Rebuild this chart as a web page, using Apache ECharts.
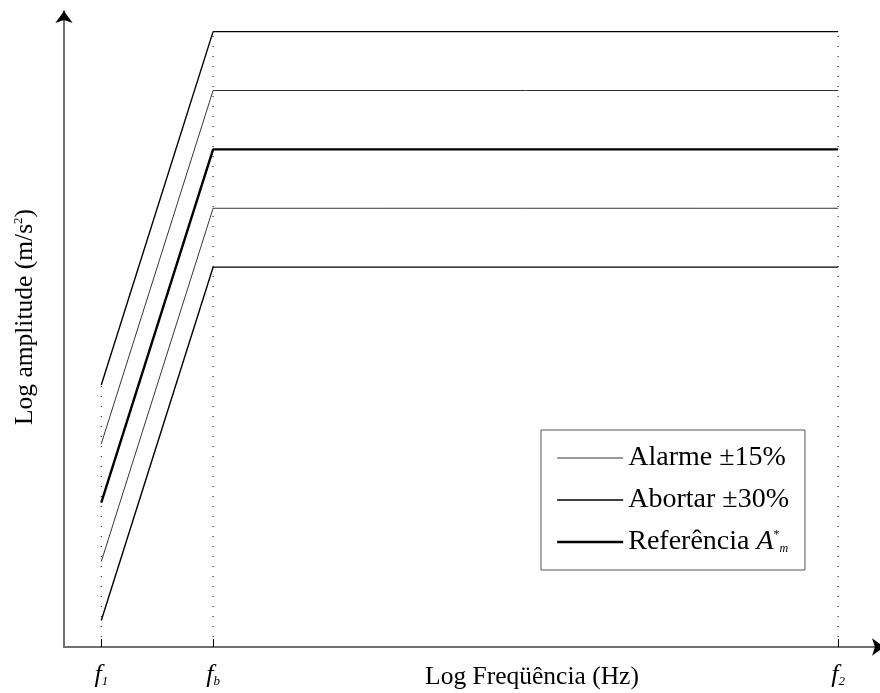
<!DOCTYPE html>
<html>
<head>
<meta charset="utf-8">
<script src="https://cdn.jsdelivr.net/npm/echarts@6/dist/echarts.min.js"></script>
<style>
  html, body { margin: 0; padding: 0; background: #fff; }
  #chart { width: 880px; height: 693px; }
</style>
</head>
<body>
<div id="chart"></div>
<script>
// Break points on the log-frequency axis: f1, fb, f2
const freqPoints = [1, 4, 20.77];
const freqTickLabels = ['{f|f}{s|1}', '{f|f}{s|b}', '{f|f}{s|2}'];

// Log amplitude of the reference spectrum and its tolerance bands
const reference   = [2.45, 8.45, 8.45];
const alarmUpper  = [3.45, 9.45, 9.45];
const alarmLower  = [1.45, 7.45, 7.45];
const abortUpper  = [4.45, 10.45, 10.45];
const abortLower  = [0.45, 6.45, 6.45];

const legendNames = ['Alarme ±15%', 'Abortar ±30%', 'Referência'];
const lineWidths  = { 'Alarme ±15%': 0.8, 'Abortar ±30%': 1.4, 'Referência': 2.4 };

const X_MAX = 22;
const Y_MAX = 10.8;

const serif = '"Liberation Serif", "DejaVu Serif", serif';

function pairs(ys) {
  return freqPoints.map((x, i) => [x, ys[i]]);
}

function bandSeries(name, ys) {
  return {
    name: name,
    type: 'line',
    data: pairs(ys),
    symbol: 'none',
    silent: true,
    lineStyle: { color: '#000', width: lineWidths[name] },
    itemStyle: { color: '#000' },
    z: 3
  };
}

// dotted guides rising from the axis to the upper abort limit
const guideSeries = freqPoints.map((x, i) => ({
  type: 'line',
  data: [[x, 0], [x, abortUpper[i]]],
  symbol: 'none',
  silent: true,
  lineStyle: { color: '#000', width: 1, type: [1, 9] },
  z: 1
}));

// an invisible twin axis that only carries the solid black arrow head
function arrowAxis(max) {
  return {
    type: 'value',
    min: 0,
    max: max,
    splitLine: { show: false },
    axisTick: { show: false },
    axisLabel: { show: false },
    axisLine: {
      show: true,
      onZero: false,
      symbol: ['none', 'arrow'],
      symbolSize: [13, 12],
      lineStyle: { color: '#000', width: 0 }
    },
    z: 5
  };
}

const chart = echarts.init(document.getElementById('chart'), null, { renderer: 'canvas' });

chart.setOption({
  animation: false,
  backgroundColor: '#fff',
  textStyle: { fontFamily: serif },
  grid: { left: 64, right: -4, top: 11, bottom: 46, containLabel: false, outerBoundsMode: 'none' },
  xAxis: [{
    type: 'value',
    min: 0,
    max: X_MAX,
    name: 'Log Freqüência (Hz)',
    nameLocation: 'middle',
    nameGap: 17,
    nameMoveOverlap: false,
    nameTextStyle: { fontFamily: serif, fontSize: 25.5, color: '#000', padding: [0, 0, 0, 116] },
    splitLine: { show: false },
    axisLine: {
      show: true,
      onZero: false,
      lineStyle: { color: '#707070', width: 2 }
    },
    axisTick: {
      show: true,
      inside: true,
      length: 8,
      customValues: freqPoints,
      lineStyle: { color: '#000', width: 1 }
    },
    axisLabel: {
      show: true,
      customValues: freqPoints,
      margin: 13,
      formatter: function (v) {
        const i = freqPoints.indexOf(v);
        return i >= 0 ? freqTickLabels[i] : '';
      },
      rich: {
        f: { fontFamily: serif, fontStyle: 'italic', fontSize: 26, color: '#000', lineHeight: 28, verticalAlign: 'bottom' },
        s: { fontFamily: serif, fontStyle: 'italic', fontSize: 13, color: '#000', lineHeight: 28, verticalAlign: 'bottom' }
      }
    }
  }, Object.assign(arrowAxis(X_MAX), { position: 'bottom' })],
  yAxis: [{
    type: 'value',
    min: 0,
    max: Y_MAX,
    name: 'Log amplitude (m/s{sup|2})',
    nameLocation: 'middle',
    nameGap: 25,
    nameRotate: 90,
    nameMoveOverlap: false,
    nameTextStyle: {
      fontFamily: serif, fontSize: 25.5, color: '#000', padding: [0, 0, 0, 24],
      rich: {
        sup: { fontFamily: serif, fontSize: 13, color: '#000', verticalAlign: 'top', lineHeight: 27 }
      }
    },
    splitLine: { show: false },
    axisTick: { show: false },
    axisLabel: { show: false },
    axisLine: {
      show: true,
      onZero: false,
      lineStyle: { color: '#707070', width: 2 }
    }
  }, Object.assign(arrowAxis(Y_MAX), { position: 'left' })],
  legend: {
    data: legendNames.map(n => ({
      name: n,
      lineStyle: { width: lineWidths[n], color: '#000' },
      itemStyle: { opacity: 0 }
    })),
    orient: 'vertical',
    left: 541,
    top: 430,
    padding: [14, 16, 14, 15],
    itemGap: 14,
    itemWidth: 66,
    itemHeight: 14,
    itemTextGap: 14,
    borderColor: '#555',
    borderWidth: 1,
    backgroundColor: '#fff',
    selectedMode: false,
    itemStyle: { opacity: 0 },
    formatter: function (name) {
      return name === 'Referência' ? 'Referência {a|A}{sup|*}{sub|m}' : name;
    },
    textStyle: {
      fontFamily: serif, fontSize: 28, color: '#000', lineHeight: 26,
      rich: {
        a: { fontFamily: serif, fontStyle: 'italic', fontSize: 28, color: '#000', lineHeight: 26 },
        sup: { fontFamily: serif, fontSize: 12, color: '#000', verticalAlign: 'top', lineHeight: 26 },
        sub: { fontFamily: serif, fontStyle: 'italic', fontSize: 12, color: '#000', verticalAlign: 'bottom', lineHeight: 26 }
      }
    }
  },
  series: [
    bandSeries('Alarme ±15%', alarmUpper),
    bandSeries('Alarme ±15%', alarmLower),
    bandSeries('Abortar ±30%', abortUpper),
    bandSeries('Abortar ±30%', abortLower),
    bandSeries('Referência', reference)
  ].concat(guideSeries)
});
</script>
</body>
</html>
